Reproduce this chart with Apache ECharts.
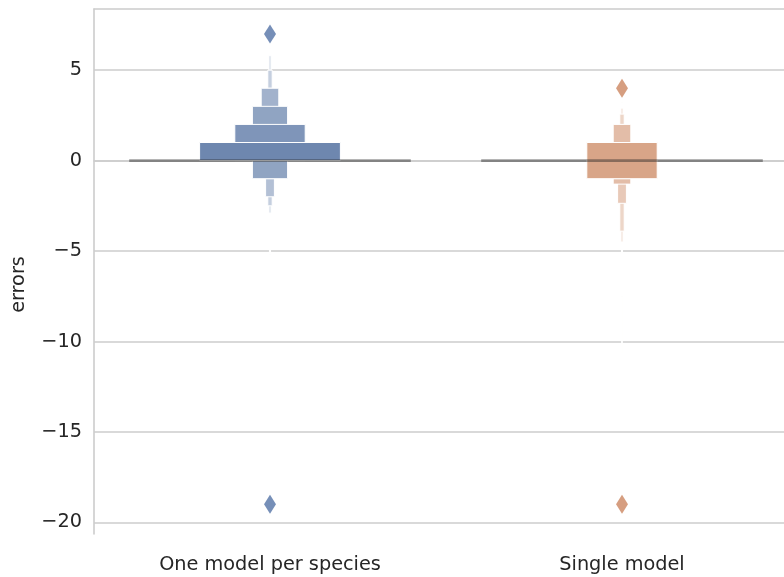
<!DOCTYPE html>
<html><head><meta charset="utf-8">
<script src="https://cdn.jsdelivr.net/npm/echarts@6/dist/echarts.min.js"></script>
<style>html,body{margin:0;padding:0;background:#fff;overflow:hidden;width:784px;height:577px}#c{width:798px;height:577px}</style>
</head><body><div id="c"></div>
<script>
// ---------------- data ----------------
const categories = ['One model per species', 'Single model'];
const yTicks = [-20, -15, -10, -5, 0, 5];
// letter-value boxes, innermost -> outermost: lower / upper bounds
const perSpeciesLow  = [0, 0, -1, -1, -2, -2.5, -2.9, -5.2];
const perSpeciesHigh = [1, 2, 3, 4, 4, 5, 5.8, 6.2];
const singleLow  = [-1, -1, -1.3, -2.36, -3.9, -4.5, -7.5, -10.6];
const singleHigh = [1, 1, 2, 2, 2.57, 2.9, 3.2, 3.5];
const medians = [0, 0];
const perSpeciesOutliers = [7, -19];
const singleOutliers = [4, -19];

// ---------------- style ----------------
const baseColors = [[88, 117, 163], [204, 137, 99]];
const outlierColors = ['#5473a6', '#cc8660'];
const levelStart = [0, 1];
const gridColor = '#cccccc';
const textColor = '#262626';
const fontFamily = '"DejaVu Sans", sans-serif';
const fontSize = 19.3;

function levelColor(cat, lvl) {
  const t = Math.min(0.9, 0.13 + 0.104 * lvl);
  const b = baseColors[cat];
  const c = b.map(v => Math.round(v + t * (255 - v)));
  return 'rgb(' + c.join(',') + ')';
}

const lows = [perSpeciesLow, singleLow];
const highs = [perSpeciesHigh, singleHigh];
const boxData = [];
lows.forEach((lowArr, cat) => {
  for (let i = lowArr.length - 1; i >= 0; i--) {
    boxData.push([cat, lowArr[i], highs[cat][i], i + levelStart[cat]]);
  }
});

function fmt(v) { return v < 0 ? '\u2212' + Math.abs(v) : String(v); }

const chart = echarts.init(document.getElementById('c'), null, {renderer: 'canvas'});
chart.setOption({
  animation: false,
  backgroundColor: '#ffffff',
  grid: {left: 94, top: 9, right: 0, height: 525, containLabel: false},
  xAxis: [{
    type: 'category', data: categories, position: 'bottom',
    axisLine: {show: true, lineStyle: {color: gridColor, width: 1.6}},
    axisTick: {show: false},
    axisLabel: {color: textColor, fontSize: fontSize, fontFamily: fontFamily, margin: 21},
    splitLine: {show: false}
  }, {
    type: 'category', data: categories, position: 'top',
    axisLine: {show: true, lineStyle: {color: gridColor, width: 1.6}},
    axisTick: {show: false}, axisLabel: {show: false}, splitLine: {show: false}
  }],
  yAxis: {
    type: 'value', min: -20.64, max: 8.38,
    axisLine: {show: true, lineStyle: {color: gridColor, width: 1.6}},
    axisTick: {show: false},
    splitLine: {show: false},
    axisLabel: {customValues: yTicks, formatter: fmt, color: textColor, fontSize: fontSize, fontFamily: fontFamily, margin: 12},
    name: 'errors', nameLocation: 'middle', nameRotate: 90, nameGap: 66,
    nameTextStyle: {color: textColor, fontSize: fontSize, fontFamily: fontFamily, padding: [0, 26, 0, 0]}
  },
  series: [{
    type: 'scatter', data: [], silent: true, z: 1,
    markLine: {
      silent: true, symbol: ['none', 'none'], z: 1,
      label: {show: false},
      lineStyle: {color: gridColor, width: 1.6, type: 'solid'},
      data: yTicks.map(v => ({yAxis: v}))
    }
  }, {
    type: 'custom', z: 3, silent: true,
    data: boxData,
    renderItem: function (params, api) {
      const cat = api.value(0), lo = api.value(1), hi = api.value(2), lvl = api.value(3);
      const band = api.size([1, 0])[0];
      const w = band * 0.8 * Math.pow(2, -(lvl + 1));
      const cx = api.coord([cat, 0])[0];
      const yTop = api.coord([cat, hi])[1];
      const yBot = api.coord([cat, lo])[1];
      return {
        type: 'rect', z2: 100 - lvl,
        shape: {x: cx - w / 2, y: yTop, width: w, height: yBot - yTop},
        style: {fill: levelColor(cat, lvl), stroke: '#ffffff', lineWidth: 1}
      };
    }
  }, {
    type: 'custom', z: 4, silent: true,
    data: medians.map((m, i) => [i, m]),
    renderItem: function (params, api) {
      const cat = api.value(0), m = api.value(1);
      const band = api.size([1, 0])[0];
      const p = api.coord([cat, m]);
      return {
        type: 'line',
        shape: {x1: p[0] - band * 0.4, y1: p[1], x2: p[0] + band * 0.4, y2: p[1]},
        style: {stroke: 'rgba(38,38,38,0.45)', lineWidth: 2.6}
      };
    }
  }, {
    type: 'scatter', z: 5, symbol: 'diamond', symbolSize: [12, 19],
    itemStyle: {color: outlierColors[0]},
    data: perSpeciesOutliers.map(v => [0, v])
  }, {
    type: 'scatter', z: 5, symbol: 'diamond', symbolSize: [12, 19],
    itemStyle: {color: outlierColors[1]},
    data: singleOutliers.map(v => [1, v])
  }]
});
</script>
</body></html>
